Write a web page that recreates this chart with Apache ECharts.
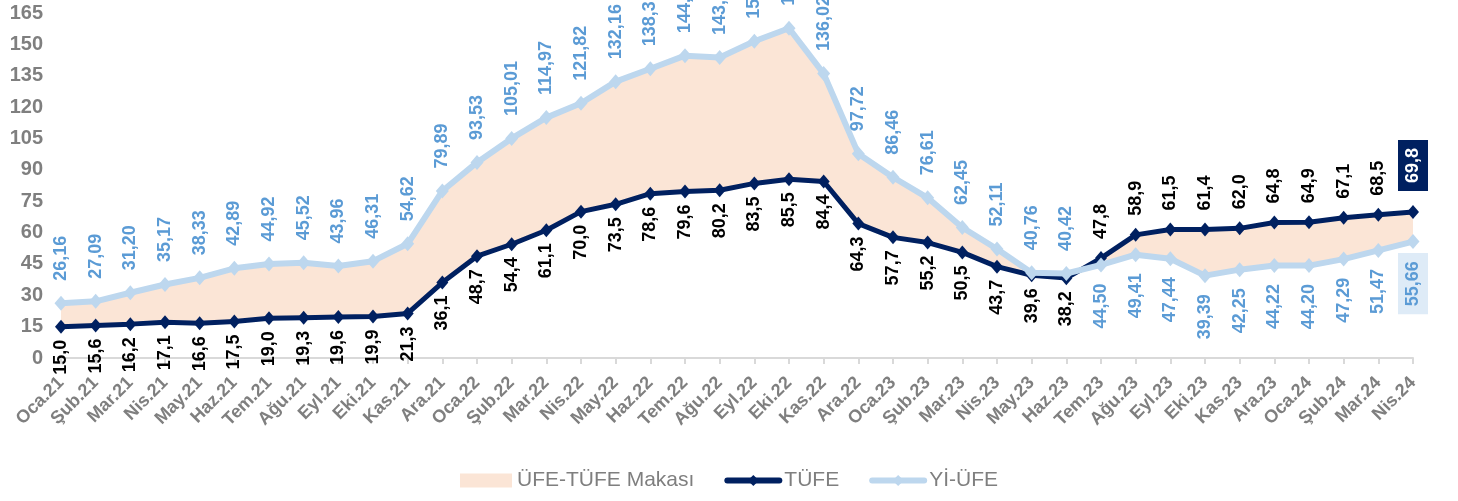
<!DOCTYPE html>
<html>
<head>
<meta charset="utf-8">
<script src="https://cdn.jsdelivr.net/npm/echarts@6/dist/echarts.min.js"></script>
<style>
  html, body { margin: 0; padding: 0; background: #fff; }
  #chart { width: 1458px; height: 501px; }
</style>
</head>
<body>
<div id="chart"></div>
<script>
const categories = [
  "Oca.21", "Şub.21", "Mar.21", "Nis.21", "May.21", "Haz.21", "Tem.21", "Ağu.21", "Eyl.21", "Eki.21", "Kas.21", "Ara.21",
  "Oca.22", "Şub.22", "Mar.22", "Nis.22", "May.22", "Haz.22", "Tem.22", "Ağu.22", "Eyl.22", "Eki.22", "Kas.22", "Ara.22",
  "Oca.23", "Şub.23", "Mar.23", "Nis.23", "May.23", "Haz.23", "Tem.23", "Ağu.23", "Eyl.23", "Eki.23", "Kas.23", "Ara.23",
  "Oca.24", "Şub.24", "Mar.24", "Nis.24"
];

const tufe = [
  15.0, 15.6, 16.2, 17.1, 16.6, 17.5, 19.0, 19.3, 19.6, 19.9, 21.3, 36.1,
  48.7, 54.4, 61.1, 70.0, 73.5, 78.6, 79.6, 80.2, 83.5, 85.5, 84.4, 64.3,
  57.7, 55.2, 50.5, 43.7, 39.6, 38.2, 47.8, 58.9, 61.5, 61.4, 62.0, 64.8,
  64.9, 67.1, 68.5, 69.8
];

const yiufe = [
  26.16, 27.09, 31.20, 35.17, 38.33, 42.89, 44.92, 45.52, 43.96, 46.31, 54.62, 79.89,
  93.53, 105.01, 114.97, 121.82, 132.16, 138.31, 144.61, 143.75, 151.50, 157.69, 136.02, 97.72,
  86.46, 76.61, 62.45, 52.11, 40.76, 40.42, 44.50, 49.41, 47.44, 39.39, 42.25, 44.22,
  44.20, 47.29, 51.47, 55.66
];

const yTicks = { min: 0, max: 165, interval: 15 };

const NAVY = "#002060";
const LIGHT = "#bdd7ee";
const LIGHT_TEXT = "#5b9bd5";
const PEACH = "#fbe5d6";
const FONT = "Liberation Sans, Arial, sans-serif";

// band between the two lines, stacked on the lower one
const gapBase = tufe.map((v, i) => Math.min(v, yiufe[i]));
const gapSize = tufe.map((v, i) => Math.abs(v - yiufe[i]));

const fmt = (v, d) => v.toFixed(d).replace(".", ",");

function vLabel(up, dist) {
  return {
    show: true,
    position: up ? "top" : "bottom",
    rotate: 90,
    align: up ? "left" : "right",
    verticalAlign: "middle",
    distance: dist,
    fontFamily: FONT,
    fontWeight: "bold",
    fontSize: 18
  };
}

const last = categories.length - 1;

const tufeData = tufe.map((v, i) => {
  const up = v > yiufe[i];
  const lab = vLabel(up, up ? 12 : 6);
  lab.color = "#000";
  lab.formatter = fmt(v, 1);
  if (i === last) {
    Object.assign(lab, { color: "#fff", backgroundColor: NAVY, padding: [6, 8], distance: 14 });
  }
  return { value: v, label: lab };
});

const yiufeData = yiufe.map((v, i) => {
  const up = v >= tufe[i];
  const lab = vLabel(up, up ? 15 : 11);
  lab.color = LIGHT_TEXT;
  lab.formatter = fmt(v, 2);
  if (i === last) {
    Object.assign(lab, { backgroundColor: "#deebf7", padding: [6, 8], distance: 4 });
  }
  return { value: v, label: lab };
});

const chart = echarts.init(document.getElementById("chart"), null, { renderer: "canvas" });

chart.setOption({
  animation: false,
  textStyle: { fontFamily: FONT },
  grid: { left: 61, right: 45, top: 13, bottom: 143 },
  legend: {
    bottom: 5,
    left: "center",
    itemGap: 30,
    itemWidth: 52,
    itemHeight: 14,
    textStyle: { color: "#7f7f7f", fontSize: 21, fontFamily: FONT },
    data: [
      { name: "ÜFE-TÜFE Makası", icon: "rect" },
      { name: "TÜFE", lineStyle: { width: 6, cap: "round" } },
      { name: "Yİ-ÜFE", lineStyle: { width: 6, cap: "round" } }
    ]
  },
  xAxis: {
    type: "category",
    data: categories,
    boundaryGap: false,
    axisLine: { lineStyle: { color: "#d9d9d9", width: 2 } },
    axisTick: { show: true, length: 6, lineStyle: { color: "#d9d9d9", width: 2 } },
    axisLabel: {
      interval: 0,
      rotate: 45,
      margin: 22,
      color: "#7f7f7f",
      fontSize: 18,
      fontWeight: "bold"
    },
    splitLine: { show: false }
  },
  yAxis: {
    type: "value",
    min: yTicks.min,
    max: yTicks.max,
    interval: yTicks.interval,
    axisLine: { show: false },
    axisTick: { show: false },
    splitLine: { show: false },
    axisLabel: { color: "#7f7f7f", fontSize: 20, fontWeight: "bold", margin: 18 }
  },
  series: [
    {
      name: "base",
      type: "line",
      stack: "gap",
      data: gapBase,
      symbol: "none",
      lineStyle: { opacity: 0 },
      silent: true,
      z: 1
    },
    {
      name: "ÜFE-TÜFE Makası",
      type: "line",
      stack: "gap",
      data: gapSize,
      symbol: "none",
      lineStyle: { opacity: 0, width: 0 },
      itemStyle: { color: PEACH },
      areaStyle: { color: PEACH, opacity: 1 },
      silent: true,
      z: 1
    },
    {
      name: "TÜFE",
      type: "line",
      data: tufeData,
      symbol: "diamond",
      symbolSize: [12, 14],
      itemStyle: { color: NAVY },
      lineStyle: { color: NAVY, width: 5 },
      z: 3
    },
    {
      name: "Yİ-ÜFE",
      type: "line",
      data: yiufeData,
      symbol: "diamond",
      symbolSize: [13, 15],
      itemStyle: { color: LIGHT },
      lineStyle: { color: LIGHT, width: 6 },
      z: 4
    }
  ]
});
</script>
</body>
</html>
